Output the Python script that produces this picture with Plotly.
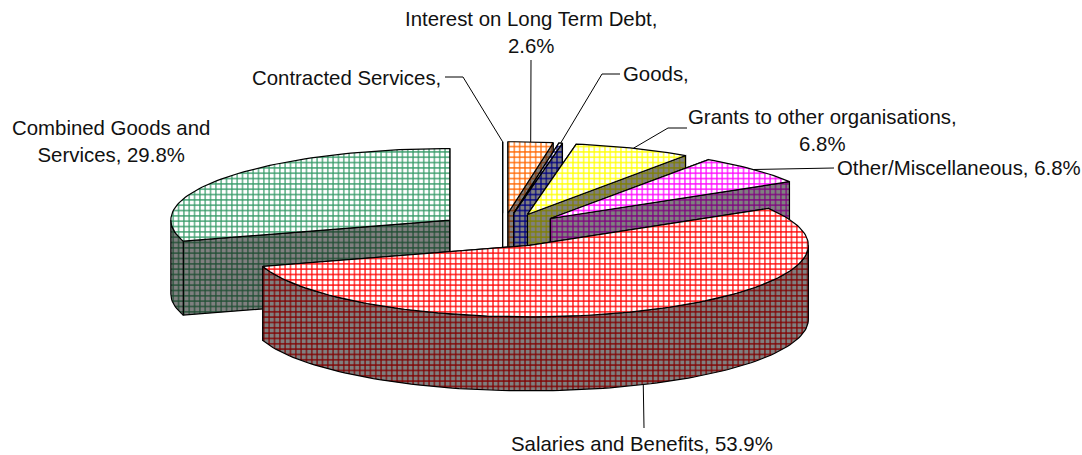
import math
import plotly.graph_objects as go

# ---- data (percent of total, clockwise from 12 o'clock) ----
categories = ["Interest on Long Term Debt", "Goods", "Grants to other organisations",
              "Other/Miscellaneous", "Salaries and Benefits",
              "Combined Goods and Services", "Contracted Services"]
values = [2.6, 0.2, 6.8, 6.8, 53.9, 29.8, 0.0]
value_labels = ["2.6%", "", "6.8%", "6.8%", "53.9%", "29.8%", ""]

# ---- styles ----
top_hatch = ["#FF6600", "#000080", "#FFFF00", "#FF00FF", "#FF0000", "#339966", "#FFFFFF"]
wall_hatch = ["#803300", "#000080", "#808000", "#800080", "#800000", "#1F4D33", "#808080"]
draw_order = [5, 6, 0, 1, 2, 3, 4]

# ---- pie geometry (pixels of a 1082x455 page) ----
CX, CY = 502.6, 230.0
RX, RY = 279.0, 71.5
DEPTH = 74.0
EXPLODE = 0.235
PITCH = 5.33
SOLID = 0.4


def rim(cx, cy, deg):
    t = math.radians(deg)
    return cx + RX * math.sin(t), cy - RY * math.cos(t)


def arc(cx, cy, a0, a1):
    n = max(2, int(abs(a1 - a0) / 1.5) + 2)
    return [rim(cx, cy, a0 + (a1 - a0) * i / (n - 1)) for i in range(n)]


def add_poly(fig, pts, fg, bg):
    xs = [p[0] for p in pts] + [pts[0][0]]
    ys = [p[1] for p in pts] + [pts[0][1]]
    fig.add_trace(go.Scatter(
        x=xs, y=ys, mode="lines", fill="toself", hoverinfo="skip", showlegend=False,
        line=dict(color="#000000", width=1.2),
        fillcolor=bg,
        fillpattern=dict(shape="+", size=PITCH, solidity=SOLID, fgcolor=fg, bgcolor=bg, fillmode="replace"),
    ))


def down(pts):
    return [(x, y + DEPTH) for x, y in pts]


fig = go.Figure()
total = max(sum(values), 100.0)
angles = [0.0]
for v in values:
    angles.append(angles[-1] + 360.0 * v / total)
mids = [(angles[i] + angles[i + 1]) / 2 for i in range(len(values))]
apex = [(CX + EXPLODE * RX * math.sin(math.radians(m)),
         CY - EXPLODE * RY * math.cos(math.radians(m))) for m in mids]

for i in draw_order:
    a0, a1 = angles[i], angles[i + 1]
    cx, cy = apex[i]
    for edge in (a0, a1):
        p = rim(cx, cy, edge)
        add_poly(fig, [(cx, cy), p, (p[0], p[1] + DEPTH), (cx, cy + DEPTH)], wall_hatch[i], "#808080")
    lo, hi = max(a0, 90.0), min(a1, 270.0)
    if hi > lo:
        r = arc(cx, cy, lo, hi)
        add_poly(fig, r + down(r)[::-1], wall_hatch[i], "#808080")
    add_poly(fig, [(cx, cy)] + arc(cx, cy, a0, a1), top_hatch[i], "#FFFFFF")

# ---- leader lines: slice rim -> elbow -> label ----
LEADERS = {
    0: [(531, 60)],
    6: [(463, 77), (445, 77)],
    1: [(602, 74), (620, 74)],
    2: [(668, 128), (687, 128)],
    3: [(834, 168)],
    4: [(644, 428)],
}
for i, tail in LEADERS.items():
    sx, sy = rim(apex[i][0], apex[i][1], mids[i])
    if i == 4:
        sy += DEPTH
    fig.add_trace(go.Scatter(
        x=[sx] + [p[0] for p in tail], y=[sy] + [p[1] for p in tail], mode="lines",
        hoverinfo="skip", showlegend=False, line=dict(color="#000000", width=1),
    ))

# ---- labels ----
LABELS = [
    (0, 531, 32, "{},<br>{}", "center"),
    (6, 443, 78, "{},", "right"),
    (1, 621, 74, "{},", "left"),
    (2, 822, 130, "{},<br>{}", "center"),
    (3, 835, 168, "{}, {}", "left"),
    (4, 642, 444, "{}, {}", "center"),
]
for i, x, y, tpl, anchor in LABELS:
    fig.add_annotation(x=x, y=y, xref="x", yref="y", showarrow=False, xanchor=anchor, yanchor="middle",
                       align="center", text=tpl.format(categories[i], value_labels[i]))
fig.add_annotation(x=111, y=141, xref="x", yref="y", showarrow=False, xanchor="center", yanchor="middle",
                   align="center", text="Combined Goods and<br>Services, " + value_labels[5])

fig.update_layout(
    width=1082, height=455, margin=dict(l=0, r=0, t=0, b=0),
    paper_bgcolor="#FFFFFF", plot_bgcolor="#FFFFFF", showlegend=False,
    font=dict(family="Liberation Sans", size=20.4, color="#111111"),
    xaxis=dict(range=[0, 1082], visible=False, fixedrange=True),
    yaxis=dict(range=[455, 0], visible=False, fixedrange=True),
)
fig.write_html("out.html", config={"displayModeBar": False},
               post_script="document.body.style.margin='0';document.body.style.overflow='hidden';")
